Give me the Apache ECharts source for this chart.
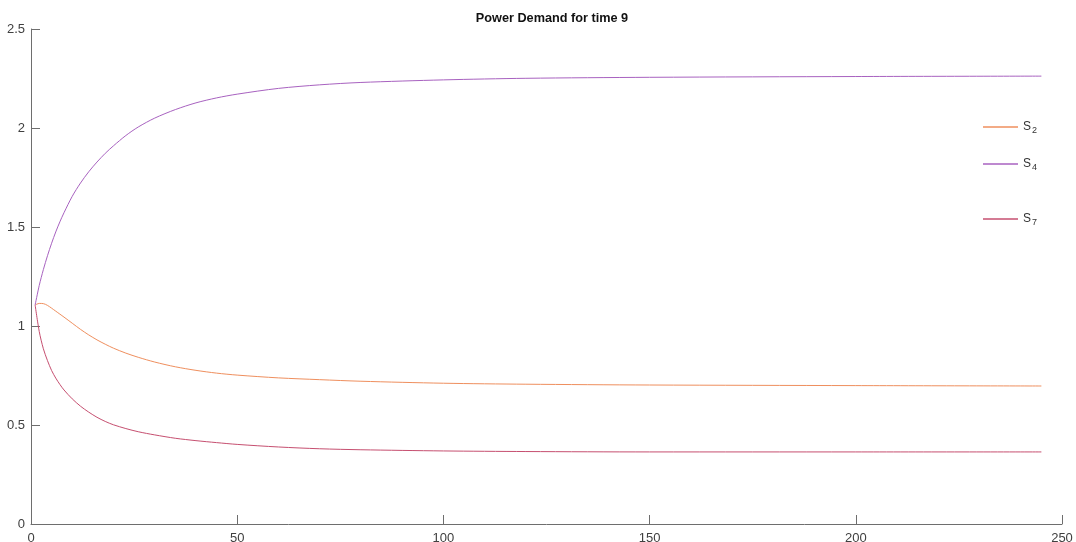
<!DOCTYPE html>
<html>
<head>
<meta charset="utf-8">
<script src="https://cdn.jsdelivr.net/npm/echarts@6/dist/echarts.min.js"></script>
<style>
  html, body { margin: 0; padding: 0; background: #fff; }
  #chart { width: 1076px; height: 542px; }
</style>
</head>
<body>
<div id="chart"></div>
<script>
// Iteration steps at which demand is plotted
const steps = [1, 2, 3, 4, 5, 6, 7, 8, 10, 12, 14, 16, 18, 20, 23, 26, 30, 35, 40, 45, 50,
               60, 70, 80, 100, 120, 150, 200, 245];

// Power demand per source
const s2 = [1.106, 1.114, 1.113, 1.104, 1.090, 1.075, 1.060, 1.045, 1.014, 0.983, 0.955, 0.930,
            0.908, 0.888, 0.863, 0.842, 0.818, 0.794, 0.776, 0.762, 0.752, 0.738, 0.729, 0.721,
            0.711, 0.706, 0.702, 0.699, 0.697];
const s4 = [1.106, 1.205, 1.285, 1.355, 1.418, 1.475, 1.526, 1.572, 1.655, 1.722, 1.779, 1.828,
            1.872, 1.910, 1.962, 2.005, 2.050, 2.093, 2.127, 2.152, 2.171, 2.200, 2.218, 2.230,
            2.243, 2.251, 2.256, 2.260, 2.262];
const s7 = [1.106, 0.972, 0.885, 0.825, 0.775, 0.737, 0.705, 0.677, 0.632, 0.595, 0.565, 0.539,
            0.518, 0.501, 0.482, 0.466, 0.450, 0.433, 0.421, 0.411, 0.402, 0.389, 0.380, 0.375,
            0.369, 0.366, 0.364, 0.364, 0.364];

const seriesNames = ['S2', 'S4', 'S7'];
const seriesData = [s2, s4, s7];
const seriesColors = ['#ef8f5e', '#a862c0', '#c64f70'];
const legendTops = [121, 158, 213];

const toPairs = arr => steps.map((x, i) => [x, arr[i]]);
const FONT = 'Liberation Sans, Arial, sans-serif';

const chart = echarts.init(document.getElementById('chart'));

const axisLine = { show: true, lineStyle: { color: '#6e6e6e', width: 1 } };
const axisTick = { show: true, inside: true, length: 9, lineStyle: { color: '#6e6e6e' } };

chart.setOption({
  animation: false,
  backgroundColor: '#ffffff',
  title: {
    text: 'Power Demand for time 9',
    left: 547, top: 7, textAlign: 'center',
    textStyle: { fontSize: 12.7, fontWeight: 'bold', color: '#111', fontFamily: FONT }
  },
  grid: { left: 31, right: 14, top: 29, bottom: 18, containLabel: false, outerBoundsMode: 'none' },
  xAxis: {
    type: 'value', min: 0, max: 250, interval: 50,
    axisLine: axisLine, axisTick: axisTick, splitLine: { show: false },
    axisLabel: { color: '#404040', fontSize: 13, fontFamily: FONT, margin: 8 }
  },
  yAxis: {
    type: 'value', min: 0, max: 2.5, interval: 0.5,
    axisLine: axisLine, axisTick: axisTick, splitLine: { show: false },
    axisLabel: { color: '#404040', fontSize: 13, fontFamily: FONT, margin: 6 }
  },
  legend: seriesNames.map((name, i) => ({
    show: true,
    data: [name],
    left: 983, top: legendTops[i],
    padding: 0,
    icon: 'rect',
    itemWidth: 35, itemHeight: 1.4,
    itemStyle: { color: seriesColors[i] },
    selectedMode: false,
    formatter: n => '{b|S}{s|' + n.slice(1) + '}',
    textStyle: {
      color: '#333',
      fontFamily: FONT,
      rich: {
        b: { fontSize: 12, color: '#333', fontFamily: FONT },
        s: { fontSize: 9, color: '#333', fontFamily: FONT, padding: [7, 0, 0, 1] }
      }
    }
  })),
  series: seriesNames.map((name, i) => ({
    name: name,
    type: 'line',
    data: toPairs(seriesData[i]),
    smooth: 0.3,
    symbol: 'none',
    showSymbol: false,
    lineStyle: { width: 1, color: seriesColors[i] },
    itemStyle: { color: seriesColors[i] }
  }))
});
</script>
</body>
</html>
